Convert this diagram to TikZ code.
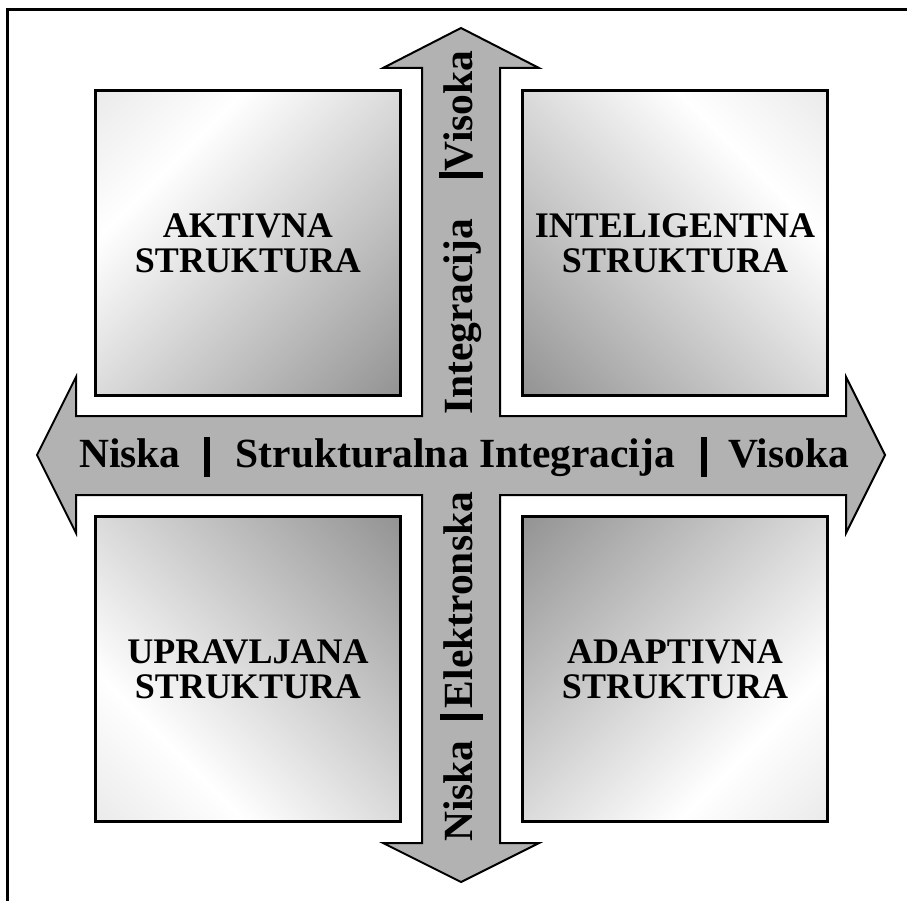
\documentclass[tikz,border=0pt]{standalone}
\usepackage{fontspec}
\setmainfont{Liberation Serif}
\usetikzlibrary{positioning}

% grey ramp for the four quadrant boxes: dark at the inner corner
\pgfdeclareverticalshading{cornershade}{100bp}{%
  color(0bp)=(black!50); color(15bp)=(black!42); color(68bp)=(white); color(100bp)=(black!15)}

\begin{document}
\begin{tikzpicture}[
    x=1pt, y=-1pt,
    box/.style={rectangle, draw=black, line width=3pt, minimum width=305pt, minimum height=305pt,
                shading=cornershade, align=center, font=\fontsize{36}{35}\selectfont\bfseries},
    crossarrow/.style={draw=black, line width=2pt, fill=black!30, line join=miter},
    axislabel/.style={anchor=base, inner sep=0pt, font=\fontsize{41.5}{41.5}\selectfont\bfseries},
    vlabel/.style={axislabel, rotate=90},
    tick/.style={line width=6pt}
]
\useasboundingbox (0,0) rectangle (907,901);

% Frame
\draw[line width=3pt] (7,901) -- (7,10) -- (907,10);

% Cross with four heads
\draw[crossarrow] (461,28) -- (539,68) -- (500,68) -- (500,416) -- (846,416) -- (846,377)
    -- (885,455) -- (846,533) -- (846,495) -- (500,495) -- (500,843) -- (539,843)
    -- (461,882) -- (383,843) -- (422,843) -- (422,495) -- (76,495) -- (76,533)
    -- (37,455) -- (76,377) -- (76,416) -- (422,416) -- (422,68) -- (383,68) -- cycle;

% Nodes
\node (aktivna) [box, shading angle=45] at (248,243) {AKTIVNA\\STRUKTURA};
\node (inteligentna) [box, shading angle=-45] at (675,243) {INTELIGENTNA\\STRUKTURA};
\node (upravljana) [box, shading angle=135] at (248,669) {UPRAVLJANA\\STRUKTURA};
\node (adaptivna) [box, shading angle=-135] at (675,669) {ADAPTIVNA\\STRUKTURA};

% Horizontal axis
\node (hlow) [axislabel] at (130,467) {Niska};
\node (hname) [axislabel] at (455.5,467) {Strukturalna Integracija};
\node (hhigh) [axislabel] at (788.5,467) {Visoka};
\draw[tick] (207,437) -- (207,477);
\draw[tick] (704,437) -- (704,477);

% Vertical axis
\node (vlow) [vlabel] at (472,791) {Niska};
\node (vname1) [vlabel] at (472,600) {Elektronska};
\node (vname2) [vlabel] at (472,317) {Integracija};
\node (vhigh) [vlabel] at (472,111) {Visoka};
\draw[tick] (440,717) -- (483,717);
\draw[tick] (439,175) -- (483,175);

\end{tikzpicture}
\end{document}
